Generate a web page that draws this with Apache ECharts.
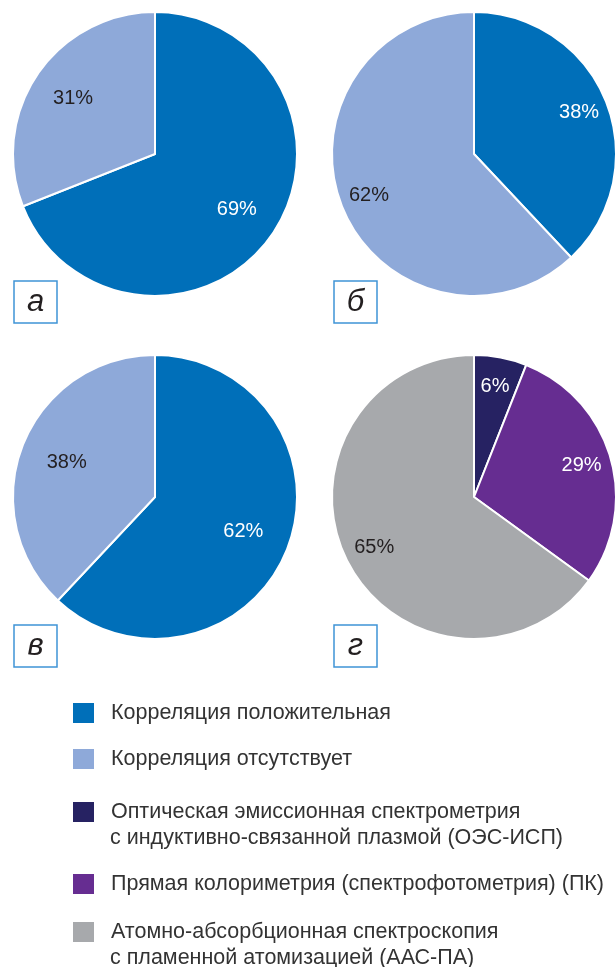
<!DOCTYPE html>
<html>
<head>
<meta charset="utf-8">
<script src="https://cdn.jsdelivr.net/npm/echarts@6/dist/echarts.min.js"></script>
<style>
  html, body { margin: 0; padding: 0; background: #fff; }
  #chart { width: 615px; height: 967px; }
</style>
</head>
<body>
<div id="chart"></div>
<script>
// категории
var corrNames = ['Корреляция положительная', 'Корреляция отсутствует'];
var methodLines = [
    ['Оптическая эмиссионная спектрометрия', 'с индуктивно-связанной плазмой (ОЭС-ИСП)'],
    ['Прямая колориметрия (спектрофотометрия) (ПК)'],
    ['Атомно-абсорбционная спектроскопия', 'с пламенной атомизацией (ААС-ПА)']
];
var methodNames = methodLines.map(function(l) { return l.join(' '); });

// значения, %
var valuesA = [69, 31];
var valuesB = [38, 62];
var valuesV = [62, 38];
var valuesG = [6, 29, 65];

var panelLetters = ['а', 'б', 'в', 'г'];

var corrColors = ['#006fb9', '#8ea9d9'];
var methodColors = ['#262262', '#662d91', '#a7a9ac'];
var corrLabelColors = ['#fff', '#231f20'];
var methodLabelColors = ['#fff', '#fff', '#231f20'];

var font = '"Liberation Sans", Arial, sans-serif';

(function() {
    var R = 142;
    var panels = [
        { names: corrNames, values: valuesA, colors: corrColors, lc: corrLabelColors, center: [155, 154], r0: 50 },
        { names: corrNames, values: valuesB, colors: corrColors, lc: corrLabelColors, center: [474, 154], r0: 78 },
        { names: corrNames, values: valuesV, colors: corrColors, lc: corrLabelColors, center: [155, 497], r0: 42 },
        { names: methodNames, values: valuesG, colors: methodColors, lc: methodLabelColors, center: [474, 497], r0: 76 }
    ];

    var series = [];
    var graphic = [];

    panels.forEach(function(p, k) {
        // сам круг
        series.push({
            type: 'pie',
            center: p.center,
            radius: [0, R],
            startAngle: 90,
            clockwise: true,
            animation: false,
            silent: true,
            label: { show: false },
            labelLine: { show: false },
            itemStyle: { borderColor: '#fff', borderWidth: 2 },
            data: p.values.map(function(v, i) {
                return { name: p.names[i], value: v, itemStyle: { color: p.colors[i] } };
            })
        });
        // прозрачное кольцо только для подписей
        series.push({
            type: 'pie',
            center: p.center,
            radius: [p.r0, R],
            startAngle: 90,
            clockwise: true,
            animation: false,
            silent: true,
            labelLine: { show: false },
            label: {
                show: true,
                position: 'inside',
                formatter: '{c}%',
                fontFamily: font,
                fontSize: 20
            },
            itemStyle: { color: 'rgba(0,0,0,0)' },
            data: p.values.map(function(v, i) {
                return { name: '', value: v, label: { color: p.lc[i] } };
            })
        });

        // рамка с буквой
        var bx = k % 2 === 0 ? 14 : 334;
        var by = k < 2 ? 281 : 625;
        graphic.push({
            type: 'rect',
            shape: { x: bx, y: by, width: 43, height: 42 },
            style: { fill: '#fff', stroke: '#3f94d6', lineWidth: 1.5 }
        });
        graphic.push({
            type: 'text',
            x: bx + 21.5,
            y: by + 21,
            style: {
                text: panelLetters[k],
                font: 'italic 31px ' + font,
                fill: '#231f20',
                align: 'center',
                verticalAlign: 'middle'
            }
        });
    });

    // легенда
    var legendNames = corrNames.concat(methodNames);
    var legendFirst = [corrNames[0], corrNames[1], methodLines[0][0], methodLines[1][0], methodLines[2][0]];
    var legendTops = [701, 747, 800, 872, 920];
    var legends = legendNames.map(function(n, i) {
        return {
            left: 71,
            top: legendTops[i],
            padding: 0,
            selectedMode: false,
            itemWidth: 23,
            itemHeight: 22,
            icon: 'rect',
            data: [n],
            formatter: function() { return legendFirst[i]; },
            textStyle: {
                fontFamily: font,
                fontSize: 21.5,
                color: '#333',
                padding: [0, 0, 0, 11]
            }
        };
    });
    // вторые строки подписей
    var secondLines = [[methodLines[0][1], 838], [methodLines[2][1], 958]];
    secondLines.forEach(function(s) {
        graphic.push({
            type: 'text',
            x: 110,
            y: s[1],
            style: {
                text: s[0],
                font: '21.5px ' + font,
                fill: '#333',
                verticalAlign: 'middle'
            }
        });
    });

    var myChart = echarts.init(document.getElementById('chart'));
    myChart.setOption({
        animation: false,
        backgroundColor: '#fff',
        legend: legends,
        graphic: graphic,
        series: series
    });
})();
</script>
</body>
</html>
